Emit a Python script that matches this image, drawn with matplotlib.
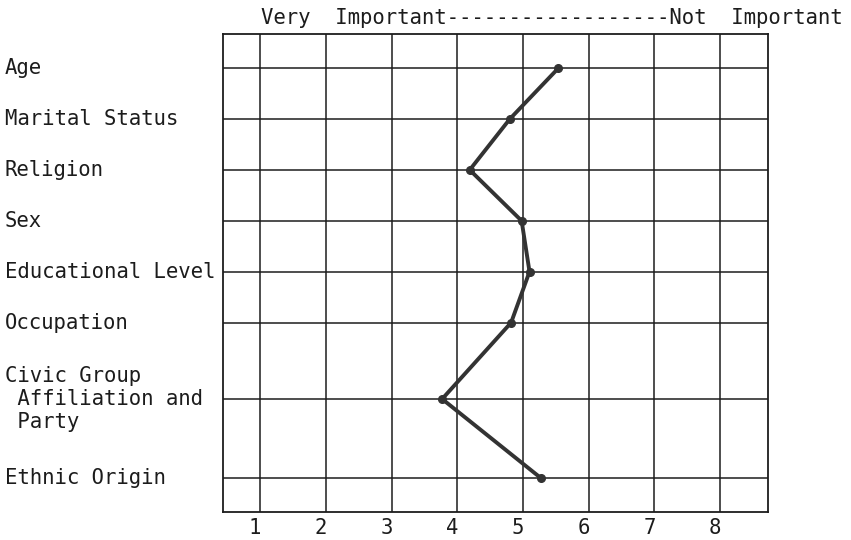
import matplotlib
matplotlib.use("Agg")
import matplotlib.pyplot as plt
import matplotlib.transforms as mtransforms

# ---- data ----
categories = ["Age", "Marital Status", "Religion", "Sex", "Educational Level",
              "Occupation", "Civic Group\n Affiliation and\n Party", "Ethnic Origin"]
row_positions = [0, 1, 2, 3, 4, 5, 6.5, 8.05]
importance = [5.54, 4.80, 4.19, 4.98, 5.10, 4.82, 3.77, 5.27]
x_ticks = [1, 2, 3, 4, 5, 6, 7, 8]
x_tick_labels = ["1", "2", "3", "4", "5", "6", "7", "8"]
header = "Very  Important" + "-" * 18 + "Not  Important"

FONT = "DejaVu Sans Mono"
FS = 14.9
INK = "#1c1c1c"

fig = plt.figure(figsize=(8.51, 5.40), dpi=100)
W, H = 851, 540
left, right, top, bottom = 222.7, 768, 34, 512
ax = fig.add_axes([left / W, 1 - bottom / H, (right - left) / W, (bottom - top) / H])

ax.set_xlim(0.43, 8.73)
ax.set_ylim(8.72, -0.67)

# grid
for xv in x_ticks:
    ax.axvline(xv, color=INK, lw=1.1, zorder=1)
for yv in row_positions:
    ax.axhline(yv, color=INK, lw=1.1, zorder=1)
for sp in ax.spines.values():
    sp.set_color(INK)
    sp.set_linewidth(1.3)

# data line
ax.plot(importance, row_positions, color="#333333", lw=2.8, marker="o",
        markersize=5.5, markerfacecolor="#333333", markeredgecolor="#333333",
        zorder=3, solid_joinstyle="miter")

# x ticks
ax.set_xticks(x_ticks)
ax.set_xticklabels(x_tick_labels, fontfamily=FONT, fontsize=FS, color=INK)
ax.tick_params(axis="x", length=0, pad=4)
ax.set_yticks([])
offset = mtransforms.ScaledTranslation(-5 / 100, 0, fig.dpi_scale_trans)
for lab in ax.get_xticklabels():
    lab.set_transform(lab.get_transform() + offset)

# category labels
trans = mtransforms.blended_transform_factory(fig.transFigure, ax.transData)
for cat, yv in zip(categories, row_positions):
    ax.text(5 / W, yv, cat, transform=trans, ha="left", va="center",
            fontfamily=FONT, fontsize=FS, color=INK, linespacing=1.2)

# header
fig.text(261 / W, 1 - 18 / H, header, ha="left", va="center",
         fontfamily=FONT, fontsize=FS, color=INK)

fig.savefig("out.png", dpi=100, facecolor="white")
